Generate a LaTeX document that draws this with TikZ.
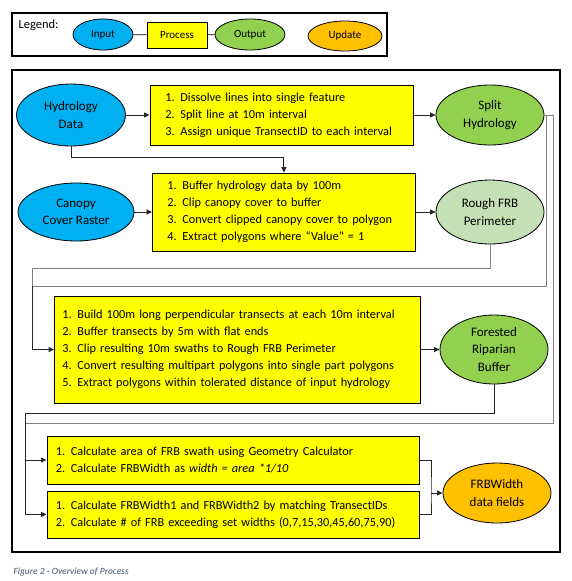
\documentclass[tikz,border=0pt]{standalone}
\usepackage{fontspec}
\setmainfont{Carlito}
\newfontfamily\boxfont{Carlito}[WordSpace=0.7]
\usepackage{tikz}
\usetikzlibrary{calc,positioning,arrows.meta,shapes.geometric}

\definecolor{inputblue}{HTML}{00B0F0}
\definecolor{processyellow}{HTML}{FFFF00}
\definecolor{outputgreen}{HTML}{92D050}
\definecolor{roughgreen}{HTML}{C5E0B4}
\definecolor{updateorange}{HTML}{FFC000}
\definecolor{captiongray}{HTML}{44546A}

\newcommand{\itemline}[2]{\mbox{\makebox[15pt][l]{#1.}#2}}

\begin{document}
\begin{tikzpicture}[x=1pt, y=-1pt,
    every node/.style={font=\fontsize{13}{17.3}\selectfont},
    >={Triangle[length=5.5pt, width=5pt]},
    input_shape/.style={ellipse, draw, line width=0.8pt, fill=inputblue, align=center, inner sep=0pt},
    output_shape/.style={ellipse, draw, line width=0.8pt, fill=outputgreen, align=center, inner sep=0pt},
    update_shape/.style={ellipse, draw, line width=0.8pt, fill=updateorange, align=center, inner sep=0pt},
    process_box/.style={draw, line width=0.8pt, fill=processyellow, align=left, anchor=west, inner ysep=0pt,
        font=\boxfont\fontsize{12.3}{17}\selectfont},
    legend_text/.style={font=\fontsize{11}{13}\selectfont},
    conn/.style={draw=black!85, line width=1pt},
    conn_light/.style={draw=black!50, line width=1pt}]
    \useasboundingbox (0,0) rectangle (572,581);

    % legend
    \draw[line width=2pt] (12,13) rectangle (387,56);
    \node[anchor=west, font=\fontsize{12.5}{15}\selectfont] (legend_title) at (15,25) {Legend:};
    \node[input_shape, legend_text, minimum width=60pt, minimum height=31pt] (legend_input) at (103,34.5) {Input};
    \node[draw, line width=0.8pt, fill=processyellow, legend_text, minimum width=60pt, minimum height=26pt] (legend_process) at (177,35) {Process};
    \node[output_shape, legend_text, minimum width=70pt, minimum height=31pt] (legend_output) at (250,34.5) {Output};
    \node[update_shape, legend_text, minimum width=74pt, minimum height=30pt] (legend_update) at (345,36) {Update};
    \draw[line width=0.8pt] (legend_input) -- (legend_process);
    \draw[line width=0.8pt] (legend_process) -- (legend_output);

    % overview frame
    \draw[line width=2pt] (12,70) rectangle (560,552);

    \node[input_shape, minimum width=109pt, minimum height=62pt] (hydrology_data) at (71,115) {Hydrology\\Data};
    \node[process_box, text width=232.5pt, inner xsep=15.5pt, minimum height=60pt] (proc_dissolve) at (149.5,115)
        {\itemline{1}{Dissolve lines into single feature}\\
         \itemline{2}{Split line at 10m interval}\\
         \itemline{3}{Assign unique TransectID to each interval}};
    \node[output_shape, minimum width=108pt, minimum height=60pt] (split_hydrology) at (490,115) {Split\\Hydrology};

    \node[input_shape, minimum width=116pt, minimum height=58pt] (canopy_cover) at (76,212) {Canopy\\Cover Raster};
    \node[process_box, text width=233pt, inner xsep=15pt, minimum height=78pt] (proc_buffer) at (152,212)
        {\itemline{1}{Buffer hydrology data by 100m}\\
         \itemline{2}{Clip canopy cover to buffer}\\
         \itemline{3}{Convert clipped canopy cover to polygon}\\
         \itemline{4}{Extract polygons where “Value” = 1}};
    \node[output_shape, fill=roughgreen, minimum width=108pt, minimum height=64pt] (rough_frb) at (490,212) {Rough FRB\\Perimeter};

    \node[process_box, text width=350pt, inner xsep=8pt, minimum height=107pt] (proc_transects) at (54,349.5)
        {\itemline{1}{Build 100m long perpendicular transects at each 10m interval}\\
         \itemline{2}{Buffer transects by 5m with flat ends}\\
         \itemline{3}{Clip resulting 10m swaths to Rough FRB Perimeter}\\
         \itemline{4}{Convert resulting multipart polygons into single part polygons}\\
         \itemline{5}{Extract polygons within tolerated distance of input hydrology}};
    \node[output_shape, minimum width=108pt, minimum height=69pt] (forested_buffer) at (494,349.5) {Forested\\Riparian\\Buffer};

    \node[process_box, text width=354.5pt, inner xsep=9pt, minimum height=48pt] (proc_area) at (46.5,460)
        {\itemline{1}{Calculate area of FRB swath using Geometry Calculator}\\
         \itemline{2}{Calculate FRBWidth as \textit{width = area *1/10}}};
    \node[process_box, text width=354.5pt, inner xsep=9pt, minimum height=47pt] (proc_width) at (46.5,514.5)
        {\itemline{1}{Calculate FRBWidth1 and FRBWidth2 by matching TransectIDs}\\
         \itemline{2}{Calculate \# of FRB exceeding set widths (0,7,15,30,45,60,75,90)}};
    \node[update_shape, minimum width=108pt, minimum height=60pt] (frb_width) at (497,493) {FRBWidth\\data fields};

    \coordinate (hyd_bend) at (71,157);
    \coordinate (left_a) at (32,268);
    \coordinate (right_a) at (546,286);
    \coordinate (left_c) at (25,413);
    \coordinate (right_b) at (553,423);
    \coordinate (bracket) at (431,493);

    \draw[conn, ->] (hydrology_data) -- (proc_dissolve);
    \draw[conn, ->] (proc_dissolve) -- (split_hydrology);
    \draw[conn, ->] (hydrology_data.south) -- (hyd_bend) -| (proc_buffer.north);
    \draw[conn, ->] (canopy_cover) -- (proc_buffer);
    \draw[conn, ->] (proc_buffer) -- (rough_frb);

    \draw[conn_light] (rough_frb.south) |- (left_a) -- (right_a -| left_a);
    \draw[conn_light] (split_hydrology.east) -| (right_a) -- (right_a -| left_a);
    \draw[conn, ->] (right_a -| left_a) |- (proc_transects.west);
    \draw[conn, ->] (proc_transects.east) -- (proc_transects.east -| forested_buffer.west);

    \draw[conn_light] (split_hydrology.east) -| (right_b) -- (right_b -| left_c);
    \draw[conn, ->] (forested_buffer.south) |- (left_c) |- (proc_width.west);
    \draw[conn, ->] (left_c) |- (proc_area.west);

    \draw[conn] (proc_area.east) -| (bracket) |- (proc_width.east);
    \draw[conn, ->] (bracket) -- (frb_width.west);

    \node[anchor=west, text=captiongray, font=\fontsize{9.5}{11}\selectfont\itshape] (caption) at (10,572) {Figure 2 - Overview of Process};
\end{tikzpicture}
\end{document}
